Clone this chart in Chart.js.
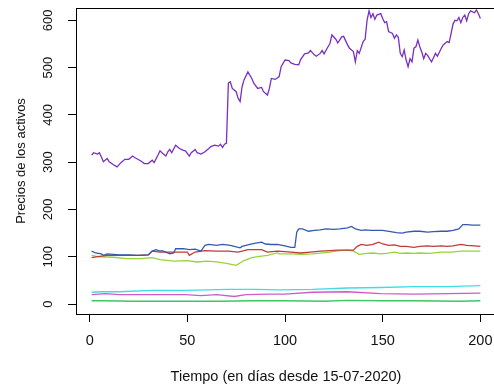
<!DOCTYPE html>
<html>
<head>
<meta charset="utf-8">
<script src="https://cdn.jsdelivr.net/npm/chart.js@4.4.0/dist/chart.umd.min.js"></script>
<style>
  html, body { margin: 0; padding: 0; background: #fff; overflow: hidden; }
  #wrap { width: 500px; height: 386px; }
</style>
</head>
<body>
<div id="wrap"><canvas id="grafico" width="500" height="386"></canvas></div>
<script>
// precios (dia, precio)
const diasMorado = [1,2,4,5,6,7,9,10,12,14,16,18,20,22,23,26,28,30,32,33,35,36,37,39,40,41,42,44,46,48,49,51,52,54,55,57,59,61,62,64,66,67,68,69,70,71,72,73,75,76,77,78,79,81,83,84,86,88,89,91,92,93,95,97,98,100,102,103,105,107,108,110,112,113,115,116,118,119,120,122,123,124,126,127,129,130,132,133,135,136,137,138,140,141,142,143,144,145,146,147,149,150,151,152,153,155,156,157,158,159,160,161,162,163,164,165,166,167,168,169,170,171,172,173,175,176,177,178,180,181,183,184,185,186,187,188,189,190,191,192,193,194,195,197,198,199,200];
const preciosMorado = [315,320,317,320,311,301,308,301,295,290,299,306,306,313,310,303,297,297,304,299,315,324,320,313,322,327,320,336,329,325,324,313,320,327,320,317,322,329,333,336,334,338,331,338,340,467,470,456,449,435,428,459,474,491,477,467,456,458,449,442,456,477,475,481,502,516,515,510,507,506,517,529,531,536,527,524,530,536,529,544,551,569,560,552,565,566,548,541,534,512,536,530,555,560,600,620,606,614,602,611,614,604,595,597,576,572,562,569,564,530,523,537,516,502,519,512,541,544,558,544,533,519,530,526,512,521,530,524,541,548,555,553,572,592,600,599,606,595,606,611,599,614,620,616,622,614,604];

const diasAzul = [1,3,6,7,9,12,15,20,25,30,32,34,36,37,39,41,43,44,48,51,54,57,59,61,65,68,72,74,77,78,82,85,88,90,93,96,100,103,105,106,107,109,112,115,118,121,125,128,132,134,136,139,141,144,147,150,154,157,160,162,166,169,173,176,180,183,186,189,191,193,196,200];
const preciosAzul = [112,108,106,103,106,105,104,104,103,104,112,115,112,113,110,106,108,117,117,115,116,112,124,126,124,126,124,122,119,122,126,129,131,127,126,126,123,120,120,152,159,159,154,156,157,159,158,159,161,164,159,156,157,156,156,156,153,151,150,152,154,154,152,153,154,154,156,159,168,168,167,167];

const diasRojo = [1,5,9,15,20,25,30,32,36,40,45,50,51,54,59,65,71,76,81,88,91,96,100,103,108,113,118,123,127,132,135,137,139,142,145,148,150,153,156,159,162,166,169,173,176,180,183,186,190,193,197,200];
const preciosRojo = [98,101,103,103,103,103,104,112,110,110,110,110,103,110,113,112,112,110,115,115,110,112,111,110,108,110,112,113,114,114,114,122,126,124,126,131,127,124,125,122,122,120,122,123,122,123,122,123,126,124,123,122];

const diasVerdeClaro = [1,5,12,19,26,32,36,43,50,55,60,65,70,75,79,83,87,91,96,97,103,108,114,123,128,132,135,138,142,145,149,152,156,159,162,166,169,174,180,185,190,195,200];
const preciosVerdeClaro = [103,100,99,96,96,98,94,91,92,89,91,89,86,82,92,98,101,103,108,106,106,105,106,110,113,114,112,105,107,108,106,107,110,107,108,107,108,107,110,110,112,112,112];

const diasCian = [1,6,15,32,49,71,85,97,114,132,149,166,183,200];
const preciosCian = [25,26,26,29,29,31,31,30,31,34,35,37,37,39];

const diasMagenta = [1,8,15,32,49,57,65,74,80,91,100,114,132,149,166,183,200];
const preciosMagenta = [20,22,20,20,20,18,20,16,20,21,21,25,26,22,21,22,23];

const diasVerde = [1,8,22,49,66,83,100,120,132,149,166,189,200];
const preciosVerde = [7,7,6,6,6,7,7,6,8,7,7,6,7];

const ticksX = [0, 50, 100, 150, 200];
const ticksY = [0, 100, 200, 300, 400, 500, 600];

const fuenteX = { family: 'Liberation Sans, Arial, sans-serif', size: 14.5 };
const fuenteY = { family: 'Liberation Sans, Arial, sans-serif', size: 13 };

function serie(dias, precios) {
    return dias.map((d, i) => ({ x: d, y: precios[i] }));
}

function linea(dias, precios, color) {
    return {
        data: serie(dias, precios),
        borderColor: color,
        borderWidth: 1.3,
        pointRadius: 0,
        tension: 0,
        fill: false
    };
}

// marco del grafico, como el box() de R
const marco = {
    id: 'marco',
    afterDatasetsDraw(chart) {
        const { ctx, chartArea: a } = chart;
        ctx.save();
        ctx.strokeStyle = '#000';
        ctx.lineWidth = 1;
        ctx.strokeRect(Math.round(a.left) + 0.5, Math.round(a.top) + 0.5,
            Math.round(a.right - a.left), Math.round(a.bottom - a.top));
        ctx.restore();
    }
};

new Chart(document.getElementById('grafico').getContext('2d'), {
    type: 'line',
    data: {
        datasets: [
            linea(diasMorado, preciosMorado, '#7a2fc4'),
            linea(diasAzul, preciosAzul, '#3659ad'),
            linea(diasRojo, preciosRojo, '#bf3b3b'),
            linea(diasVerdeClaro, preciosVerdeClaro, '#9ad23a'),
            linea(diasCian, preciosCian, '#3fdde3'),
            linea(diasMagenta, preciosMagenta, '#cf5cc6'),
            linea(diasVerde, preciosVerde, '#3cc763')
        ]
    },
    options: {
        responsive: false,
        animation: false,
        devicePixelRatio: 1,
        layout: { padding: { top: 8, right: 4, left: 0, bottom: 0 } },
        plugins: { legend: { display: false }, tooltip: { enabled: false } },
        scales: {
            x: {
                type: 'linear',
                min: -7,
                max: 208,
                afterBuildTicks: s => { s.ticks = ticksX.map(v => ({ value: v })); },
                ticks: { font: fuenteX, color: '#111', padding: 10, maxRotation: 0, includeBounds: false },
                grid: { drawOnChartArea: false, drawTicks: true, tickLength: 8, color: '#000' },
                border: { display: false },
                title: { display: true, text: 'Tiempo (en días desde 15-07-2020)', font: fuenteX, color: '#111', padding: { top: 0, bottom: 0 } },
                afterFit: s => { s.height = 72; s.paddingLeft = 0; s.paddingRight = 0; }
            },
            y: {
                type: 'linear',
                min: -21,
                max: 626,
                afterBuildTicks: s => { s.ticks = ticksY.map(v => ({ value: v })); },
                ticks: { font: fuenteY, color: '#111', padding: 9, minRotation: 90, maxRotation: 90, crossAlign: 'center', includeBounds: false },
                grid: { drawOnChartArea: false, drawTicks: true, tickLength: 8, color: '#000' },
                border: { display: false },
                title: { display: true, text: 'Precios de los activos', font: fuenteY, color: '#111', padding: { top: 14, bottom: 0 } },
                afterFit: s => { s.width = 76; s.paddingTop = 0; s.paddingBottom = 0; }
            }
        }
    },
    plugins: [marco]
});
</script>
</body>
</html>
